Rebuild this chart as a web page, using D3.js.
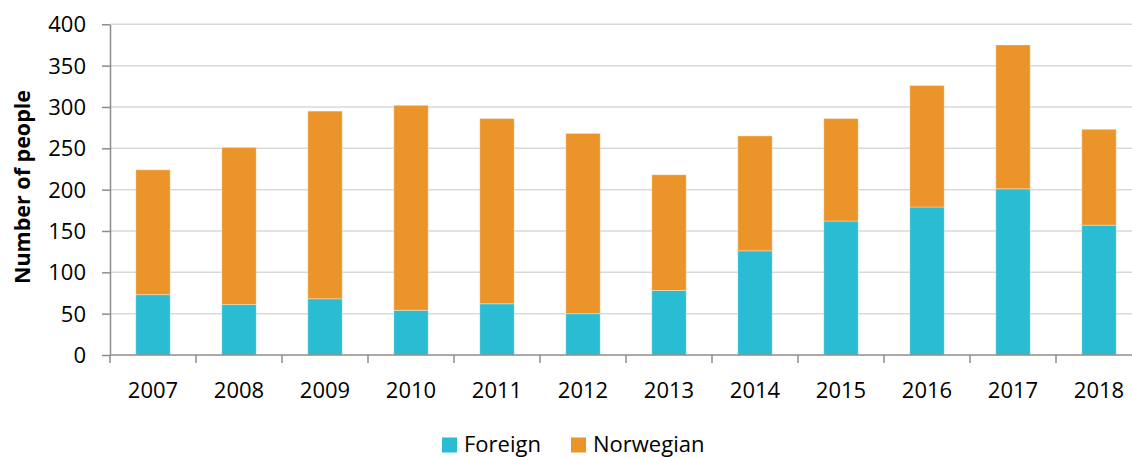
<!DOCTYPE html>
<html>
<head>
<meta charset="utf-8">
<script src="https://cdn.jsdelivr.net/npm/d3@7"></script>
<style>
  html, body { margin: 0; padding: 0; background: #fff; }
  svg { display: block; }
  text { font-family: "Open Sans", sans-serif; fill: #000; }
</style>
</head>
<body>
<svg id="chart" width="1132" height="457"></svg>
<script>
// ---- data ----
const years = ["2007","2008","2009","2010","2011","2012","2013","2014","2015","2016","2017","2018"];
const foreign   = [73, 61, 68, 54, 62, 50, 78, 126, 162, 179, 201, 157];
const norwegian = [151, 190, 227, 248, 224, 218, 140, 139, 124, 147, 174, 116];
const seriesNames = ["Foreign", "Norwegian"];
const seriesColors = ["#29BCD2", "#EB9429"];
const yTicks = [0, 50, 100, 150, 200, 250, 300, 350, 400];
const yTitle = "Number of people";

// ---- layout ----
const svg = d3.select("#chart");
const plot = { left: 110, right: 1142, top: 24.3, bottom: 355 };

const rows = years.map((y, i) => ({ year: y, Foreign: foreign[i], Norwegian: norwegian[i] }));
const stacked = d3.stack().keys(seriesNames)(rows);

const x = d3.scaleBand().domain(years).range([plot.left, plot.right]).paddingInner(0.6).paddingOuter(0.3);
const xOuter = d3.scaleBand().domain(years).range([plot.left, plot.right]);
const y = d3.scaleLinear().domain([0, 400]).range([plot.bottom, plot.top]);

// gridlines
svg.append("g").selectAll("line").data(yTicks.filter(d => d > 0)).join("line")
  .attr("x1", plot.left).attr("x2", plot.right)
  .attr("y1", d => y(d)).attr("y2", d => y(d))
  .attr("stroke", "#D9D9D9").attr("stroke-width", 1.5);

// bars
svg.append("g").selectAll("g").data(stacked).join("g")
  .attr("fill", (d, i) => seriesColors[i])
  .selectAll("rect").data(d => d).join("rect")
  .attr("x", d => x(d.data.year))
  .attr("width", x.bandwidth())
  .attr("y", d => y(d[1]))
  .attr("height", d => y(d[0]) - y(d[1]))
  .attr("stroke", "rgba(255,255,255,0.35)").attr("stroke-width", 1);

// y axis
const yAxis = svg.append("g").attr("transform", `translate(${plot.left},0)`)
  .call(d3.axisLeft(y).tickValues(yTicks).tickSize(8).tickPadding(16).tickSizeOuter(0));
yAxis.select(".domain").attr("stroke", "#8C8C8C").attr("stroke-width", 1.5);
yAxis.selectAll(".tick line").attr("stroke", "#8C8C8C").attr("stroke-width", 1.5);
yAxis.selectAll(".tick text").attr("font-size", 22).attr("font-family", "Open Sans").attr("fill", "#000").attr("dy", "0.34em");

// x axis (ticks at category boundaries)
const xAxisG = svg.append("g").attr("transform", `translate(0,${plot.bottom})`);
xAxisG.append("line").attr("x1", plot.left).attr("x2", plot.right).attr("y1", 0).attr("y2", 0)
  .attr("stroke", "#8C8C8C").attr("stroke-width", 1.5);
const boundaries = years.map(yr => xOuter(yr)).concat([plot.right]);
xAxisG.selectAll("line.tk").data(boundaries).join("line").attr("class", "tk")
  .attr("x1", d => d).attr("x2", d => d).attr("y1", 0).attr("y2", 8)
  .attr("stroke", "#8C8C8C").attr("stroke-width", 1.5);
xAxisG.selectAll("text").data(years).join("text")
  .attr("x", d => xOuter(d) + xOuter.bandwidth() / 2)
  .attr("y", 42.5)
  .attr("text-anchor", "middle").attr("font-size", 22)
  .text(d => d);

// y title
svg.append("text")
  .attr("transform", `translate(30,187) rotate(-90)`)
  .attr("text-anchor", "middle").attr("font-size", 21.5).attr("font-weight", "bold")
  .text(yTitle);

// legend
const legendItems = [{ name: seriesNames[0], color: seriesColors[0], x: 442 }, { name: seriesNames[1], color: seriesColors[1], x: 571 }];
const lg = svg.append("g").selectAll("g").data(legendItems).join("g")
  .attr("transform", d => `translate(${d.x},437.5)`);
lg.append("rect").attr("width", 15).attr("height", 15).attr("fill", d => d.color);
lg.append("text").attr("x", 22).attr("y", 14).attr("font-size", 22).text(d => d.name);
</script>
</body>
</html>
